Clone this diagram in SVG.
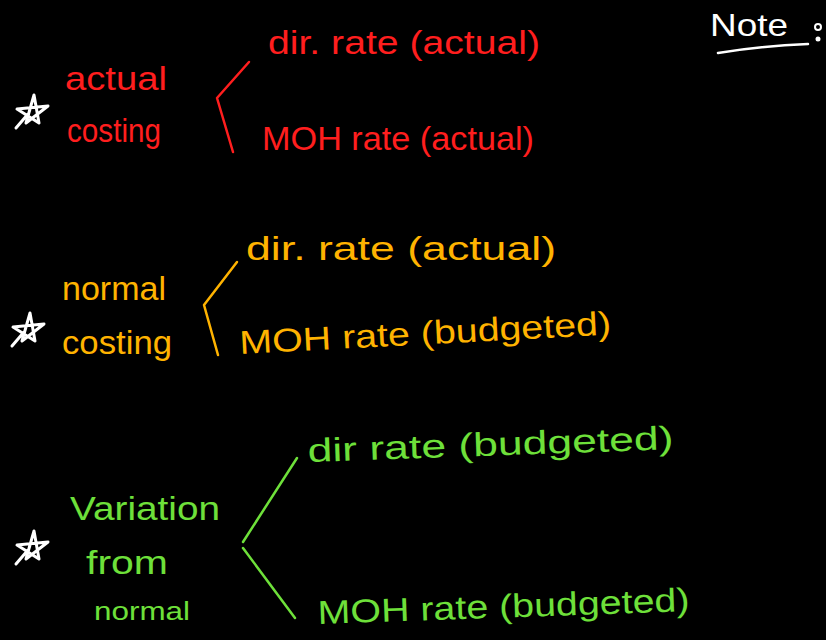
<svg xmlns="http://www.w3.org/2000/svg" width="826" height="640" viewBox="0 0 826 640">
<defs>
<style>
text{font-family:"Liberation Sans","DejaVu Sans",sans-serif;font-size:33px}
.r{fill:#ff1e1e}.o{fill:#ffb300}.g{fill:#6ee03a}.w{fill:#ffffff}
.lr{stroke:#ff1e1e}.lo{stroke:#ffb300}.lg{stroke:#6ee03a}
.ln{fill:none;stroke-width:2.5;stroke-linecap:round;stroke-linejoin:round}
.star{fill:none;stroke:#ffffff;stroke-width:3;stroke-linejoin:round;stroke-linecap:round}
</style>
<path id="st" d="M2,-17 L7,11 L-15,-3 L16,-6 L-6,11 Z M-4,2 L-16,16"/>
</defs>
<rect width="826" height="640" fill="#000"/>
<g id="note">
<text class="w" x="710" y="36" style="font-size:32px" textLength="78" lengthAdjust="spacingAndGlyphs">Note</text>
<path class="ln" stroke="#fff" d="M718,53 Q760,46 808,44"/>
<circle cx="818" cy="27" r="3" fill="none" stroke="#fff" stroke-width="2"/>
<circle cx="818" cy="39" r="2.5" fill="#fff"/>
</g>
<g id="actual-costing">
<use href="#st" x="32" y="112" class="star"/>
<text class="r" x="65" y="90" textLength="102" lengthAdjust="spacingAndGlyphs">actual</text>
<text class="r" x="67" y="142" textLength="94" lengthAdjust="spacingAndGlyphs">costing</text>
</g>
<g id="actual-dir">
<text class="r" x="268" y="54" textLength="272" lengthAdjust="spacingAndGlyphs">dir. rate (actual)</text>
</g>
<g id="actual-moh">
<text class="r" x="262" y="150" textLength="272" lengthAdjust="spacingAndGlyphs">MOH rate (actual)</text>
</g>
<g id="normal-costing">
<use href="#st" x="28" y="330" class="star"/>
<text class="o" x="62" y="300" textLength="104" lengthAdjust="spacingAndGlyphs">normal</text>
<text class="o" x="62" y="354" textLength="110" lengthAdjust="spacingAndGlyphs">costing</text>
</g>
<g id="normal-dir">
<text class="o" x="246" y="260" textLength="310" lengthAdjust="spacingAndGlyphs">dir. rate (actual)</text>
</g>
<g id="normal-moh">
<text class="o" x="240" y="354" textLength="372" lengthAdjust="spacingAndGlyphs" transform="rotate(-3 240 354)">MOH rate (budgeted)</text>
</g>
<g id="variation">
<use href="#st" x="32" y="548" class="star"/>
<text class="g" x="70" y="520" textLength="150" lengthAdjust="spacingAndGlyphs">Variation</text>
<text class="g" x="86" y="574" textLength="82" lengthAdjust="spacingAndGlyphs">from</text>
<text class="g" x="94" y="620" style="font-size:26px" textLength="96" lengthAdjust="spacingAndGlyphs">normal</text>
</g>
<g id="var-dir">
<text class="g" x="308" y="462" textLength="366" lengthAdjust="spacingAndGlyphs" transform="rotate(-2 308 462)">dir rate (budgeted)</text>
</g>
<g id="var-moh">
<text class="g" x="318" y="624" textLength="372" lengthAdjust="spacingAndGlyphs" transform="rotate(-2 318 624)">MOH rate (budgeted)</text>
</g>
<g id="connectors" class="ln">
<path class="lr" d="M249,62 L217,98 L233,152"/>
<path class="lo" d="M237,262 L204,305 L218,355"/>
<path class="lg" d="M297,458 L243,542"/>
<path class="lg" d="M243,548 L295,618"/>
</g>
</svg>
